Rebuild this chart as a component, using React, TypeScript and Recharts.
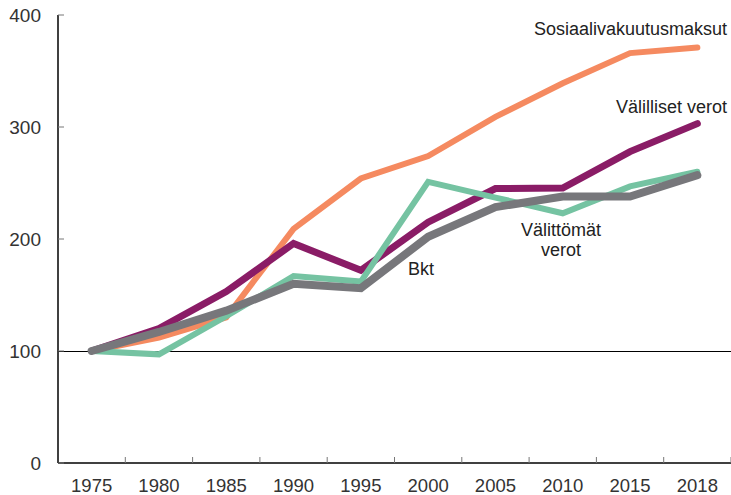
import React from "react";
import { LineChart, Line, XAxis, YAxis, ReferenceLine } from "recharts";

const years = ["1975", "1980", "1985", "1990", "1995", "2000", "2005", "2010", "2015", "2018"];
const sosiaali = [100, 112, 130, 209, 254, 274, 309, 339, 366, 371];
const valilliset = [100, 120, 153, 196, 172, 215, 245, 245.5, 278, 303];
const valittomat = [100, 97, 131, 167, 162, 251, 237, 223, 247, 260];
const bkt = [100, 117, 136, 160, 156, 202, 228.5, 238, 238, 257];
const yTicks = [0, 100, 200, 300, 400];

const data = years.map((y, i) => ({
  year: y,
  sosiaali: sosiaali[i],
  valilliset: valilliset[i],
  valittomat: valittomat[i],
  bkt: bkt[i],
}));

const FONT = "'Liberation Sans', Arial, sans-serif";
const W = 731;
const H = 495;
const LEFT = 58;
const TOP = 15;
const BOTTOM_AXIS = 463;
const BAND = (W - LEFT) / years.length;

const XTick = (props: any) => {
  const { x, payload } = props;
  return (
    <g>
      <line x1={x + BAND / 2} x2={x + BAND / 2} y1={BOTTOM_AXIS} y2={BOTTOM_AXIS - 6} stroke="#777" strokeWidth={1} />
      <text x={x} y={BOTTOM_AXIS + 28.5} textAnchor="middle" fill="#333" fontSize={18.5} fontFamily={FONT}>
        {payload.value}
      </text>
    </g>
  );
};

const YTick = (props: any) => {
  const { y, payload } = props;
  return (
    <g>
      <line x1={LEFT} x2={LEFT + 6} y1={y} y2={y} stroke="#777" strokeWidth={1} />
      <text x={41} y={y + 6.5} textAnchor="end" fill="#333" fontSize={19} fontFamily={FONT}>
        {payload.value}
      </text>
    </g>
  );
};

const labelProps = { fontFamily: FONT, fontSize: 18, fill: "#222" };

export default function App() {
  return (
    <div style={{ position: "absolute", left: 0, top: 0, width: W, height: H, background: "#fff" }}>
      <LineChart width={W} height={H} data={data} margin={{ top: TOP, right: 0, bottom: 0, left: 0 }}>
        <XAxis
          dataKey="year"
          scale="band"
          type="category"
          height={H - BOTTOM_AXIS}
          tickLine={false}
          axisLine={{ stroke: "#000", strokeWidth: 1.5 }}
          tick={<XTick />}
          interval={0}
        />
        <YAxis
          domain={[0, 400]}
          ticks={yTicks}
          width={LEFT}
          tickLine={false}
          axisLine={{ stroke: "#000", strokeWidth: 1.5 }}
          tick={<YTick />}
          interval={0}
        />
        <ReferenceLine y={100} stroke="#000" strokeWidth={1} shapeRendering="crispEdges" />
        <Line dataKey="sosiaali" stroke="#F58A60" strokeWidth={6} dot={false} strokeLinecap="round" isAnimationActive={false} />
        <Line dataKey="valilliset" stroke="#8A1C66" strokeWidth={7} dot={false} strokeLinecap="round" isAnimationActive={false} />
        <Line dataKey="valittomat" stroke="#75C3A2" strokeWidth={6} dot={false} strokeLinecap="round" isAnimationActive={false} />
        <Line dataKey="bkt" stroke="#77777B" strokeWidth={8} dot={false} strokeLinecap="round" isAnimationActive={false} />
      </LineChart>
      <svg width={W} height={H} style={{ position: "absolute", left: 0, top: 0, pointerEvents: "none" }}>
        <text x={727} y={35} textAnchor="end" {...labelProps}>Sosiaalivakuutusmaksut</text>
        <text x={727} y={113} textAnchor="end" {...labelProps}>Välilliset verot</text>
        <text x={561} y={235.5} textAnchor="middle" {...labelProps}>Välittömät</text>
        <text x={561} y={256} textAnchor="middle" {...labelProps}>verot</text>
        <text x={408} y={275} textAnchor="start" {...labelProps}>Bkt</text>
      </svg>
    </div>
  );
}
